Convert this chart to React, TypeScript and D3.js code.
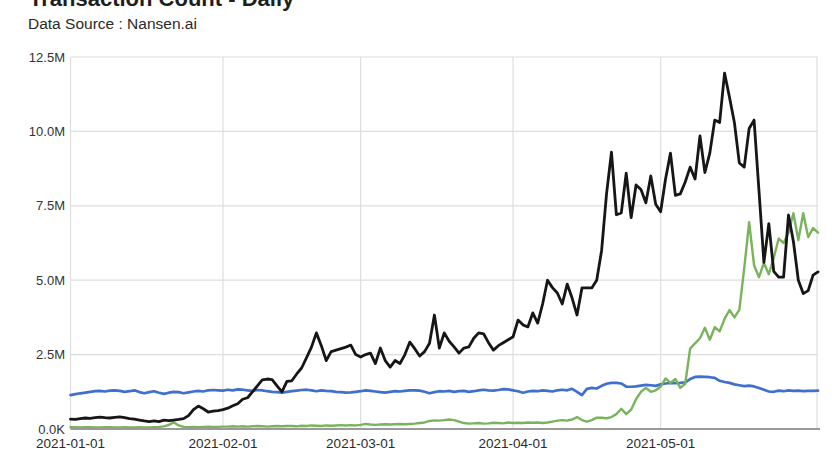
import * as d3 from "d3";

// daily values, in millions, 2021-01-01 .. 2021-06-02
const startDate = "2021-01-01";

const blackSeries = [
  0.33, 0.32, 0.35, 0.37, 0.36, 0.38, 0.4, 0.38, 0.37, 0.39,
  0.41, 0.38, 0.35, 0.33, 0.3, 0.27, 0.25, 0.27, 0.25, 0.3,
  0.28, 0.3, 0.32, 0.35, 0.45, 0.65, 0.77, 0.68, 0.57, 0.6,
  0.62, 0.65, 0.7, 0.78, 0.85, 1.0, 1.05, 1.25, 1.45, 1.65,
  1.68, 1.66, 1.45, 1.25, 1.6, 1.62, 1.85, 2.05, 2.4, 2.75,
  3.23, 2.8, 2.3, 2.6, 2.65, 2.7, 2.75, 2.82, 2.5, 2.42,
  2.5, 2.55, 2.2, 2.72, 2.3, 2.08, 2.3, 2.2, 2.5, 2.92,
  2.7, 2.45, 2.6, 2.88, 3.83, 2.72, 3.23, 2.95, 2.76, 2.55,
  2.72, 2.76, 3.05, 3.23, 3.2, 2.9, 2.65, 2.8, 2.9, 3.0,
  3.1, 3.66, 3.5, 3.43, 3.9, 3.56, 4.2, 5.0, 4.75, 4.57,
  4.2, 4.87, 4.4, 3.83, 4.74, 4.74, 4.74, 5.0, 6.0, 7.9,
  9.3, 7.2, 7.26, 8.6, 7.1, 8.2, 8.05, 7.6, 8.5, 7.55,
  7.3, 8.4, 9.27, 7.85, 7.9, 8.3, 8.8, 8.4, 9.85, 8.62,
  9.27, 10.38, 10.3, 11.96, 11.15, 10.3, 8.94, 8.8, 10.1, 10.38,
  8.0, 5.6, 6.9, 5.3, 5.1, 5.1, 7.19, 6.3, 5.0, 4.55,
  4.65, 5.17, 5.28,
];

const blueSeries = [
  1.14, 1.17, 1.2, 1.22, 1.25, 1.27, 1.28, 1.26, 1.29, 1.3,
  1.28, 1.25, 1.27, 1.3, 1.24, 1.2, 1.24, 1.27, 1.22, 1.18,
  1.22, 1.25, 1.24, 1.2, 1.23, 1.26, 1.28, 1.26, 1.3, 1.31,
  1.3, 1.29, 1.32, 1.3, 1.33, 1.32, 1.3, 1.28, 1.31, 1.3,
  1.27, 1.25, 1.24, 1.22, 1.25, 1.27, 1.29, 1.31, 1.32, 1.3,
  1.27, 1.3, 1.28, 1.27, 1.25, 1.24, 1.22, 1.23, 1.25, 1.27,
  1.3, 1.28, 1.26, 1.24, 1.22, 1.25, 1.27, 1.26, 1.28, 1.3,
  1.3, 1.29, 1.25, 1.2, 1.24, 1.27, 1.26, 1.28, 1.25, 1.27,
  1.28, 1.25, 1.27, 1.3, 1.32, 1.3, 1.29, 1.31, 1.34, 1.33,
  1.3, 1.27, 1.22, 1.26, 1.28, 1.27, 1.3, 1.28, 1.26, 1.3,
  1.32, 1.3, 1.35, 1.25, 1.14, 1.35, 1.38, 1.36, 1.45, 1.52,
  1.55, 1.55, 1.53, 1.42, 1.42, 1.43, 1.46, 1.48, 1.47, 1.45,
  1.5, 1.53, 1.55, 1.54, 1.55, 1.57, 1.68, 1.75, 1.76, 1.75,
  1.74, 1.72, 1.62, 1.58, 1.55, 1.5, 1.47, 1.44, 1.46, 1.43,
  1.38, 1.32, 1.26, 1.25, 1.29, 1.27, 1.3, 1.28, 1.29, 1.27,
  1.28, 1.28, 1.29,
];

const greenSeries = [
  0.06, 0.06, 0.05, 0.06, 0.06, 0.05, 0.05, 0.06, 0.06, 0.05,
  0.05, 0.06, 0.05, 0.05, 0.06, 0.05, 0.05, 0.06, 0.07, 0.09,
  0.14, 0.22, 0.12, 0.07, 0.06, 0.07, 0.06, 0.07, 0.08, 0.07,
  0.07, 0.08, 0.08, 0.09, 0.08, 0.09, 0.08, 0.09, 0.1, 0.09,
  0.08, 0.09, 0.1, 0.09, 0.1, 0.1, 0.09, 0.11, 0.1, 0.12,
  0.11, 0.1, 0.12, 0.11, 0.12, 0.13, 0.12, 0.13, 0.12, 0.14,
  0.17, 0.15, 0.14, 0.15, 0.16, 0.15, 0.16, 0.17, 0.16, 0.17,
  0.18, 0.2, 0.22, 0.27, 0.29, 0.28, 0.3, 0.32, 0.3, 0.25,
  0.2, 0.18, 0.19, 0.2, 0.18, 0.19, 0.21, 0.2, 0.19, 0.22,
  0.2, 0.21, 0.2, 0.22, 0.21, 0.22, 0.2, 0.22, 0.25, 0.28,
  0.3, 0.28, 0.32, 0.4, 0.3, 0.25, 0.3, 0.38, 0.38, 0.36,
  0.4, 0.5, 0.68, 0.5, 0.65, 1.0, 1.25, 1.38, 1.25, 1.3,
  1.42, 1.7, 1.55, 1.68, 1.38, 1.52, 2.7, 2.88, 3.05, 3.4,
  3.0, 3.42, 3.28, 3.7, 4.0, 3.75, 4.0, 5.4, 6.95, 5.5,
  5.1, 5.58, 5.2, 5.75, 6.4, 6.25, 6.6, 7.25, 6.35, 7.25,
  6.45, 6.75, 6.6,
];

const xTickLabels = ["2021-01-01", "2021-02-01", "2021-03-01", "2021-04-01", "2021-05-01"];
const yTickValues = [0, 2.5, 5, 7.5, 10, 12.5];
const yTickLabels = ["0.0K", "2.5M", "5.0M", "7.5M", "10.0M", "12.5M"];

const W = 832;
const H = 464;
const left = 70.5;
const right = 818;
const top = 57;
const bottom = 429;

const start = new Date(startDate + "T00:00:00Z");
const dates = blackSeries.map((_, i) => d3.utcDay.offset(start, i));

export default function App() {
  const x = d3.scaleUtc().domain([dates[0], dates[dates.length - 1]]).range([left, right]);
  const y = d3.scaleLinear().domain([0, 12.5]).range([bottom, top]);

  const line = d3
    .line<number>()
    .x((_, i) => x(dates[i]))
    .y((d) => y(d));

  const series = [
    { name: "blue", values: blueSeries, color: "#3f6fcf", width: 2.7 },
    { name: "green", values: greenSeries, color: "#79b45d", width: 2.4 },
    { name: "black", values: blackSeries, color: "#161616", width: 2.8 },
  ];

  const font = "'Liberation Sans', Arial, sans-serif";

  return (
    <svg
      width={W}
      height={H}
      style={{ position: "absolute", left: 0, top: 0, background: "#fff" }}
      fontFamily={font}
    >
      <text x={29} y={6} fontSize={22} fontWeight="bold" fill="#1e1e1e">
        Transaction Count - Daily
      </text>
      <text x={28} y={29} fontSize={15.5} fill="#2a2a2a">
        Data Source : Nansen.ai
      </text>

      {/* horizontal grid */}
      {yTickValues.slice(1).map((v) => (
        <line key={v} x1={left} x2={right} y1={y(v)} y2={y(v)} stroke="#dedede" strokeWidth={1.2} />
      ))}
      {/* vertical grid */}
      {xTickLabels.map((t) => {
        const xx = x(new Date(t + "T00:00:00Z"));
        return <line key={t} x1={xx} x2={xx} y1={top} y2={bottom} stroke="#dedede" strokeWidth={1.2} />;
      })}
      <line x1={right - 1} x2={right - 1} y1={top} y2={bottom} stroke="#dedede" strokeWidth={1.2} />

      {series.map((s) => (
        <path
          key={s.name}
          d={line(s.values) ?? ""}
          fill="none"
          stroke={s.color}
          strokeWidth={s.width}
          strokeLinejoin="round"
          strokeLinecap="round"
        />
      ))}

      {/* baseline */}
      <line x1={left} x2={right + 2} y1={bottom} y2={bottom} stroke="#9a9a9a" strokeWidth={1.8} />

      {yTickValues.map((v, i) => (
        <text key={v} x={65} y={y(v)} dy="0.36em" textAnchor="end" fontSize={13} fill="#333">
          {yTickLabels[i]}
        </text>
      ))}
      {xTickLabels.map((t) => (
        <text
          key={t}
          x={x(new Date(t + "T00:00:00Z"))}
          y={448}
          textAnchor="middle"
          fontSize={13.5}
          fill="#2a2a2a"
        >
          {t}
        </text>
      ))}
    </svg>
  );
}
